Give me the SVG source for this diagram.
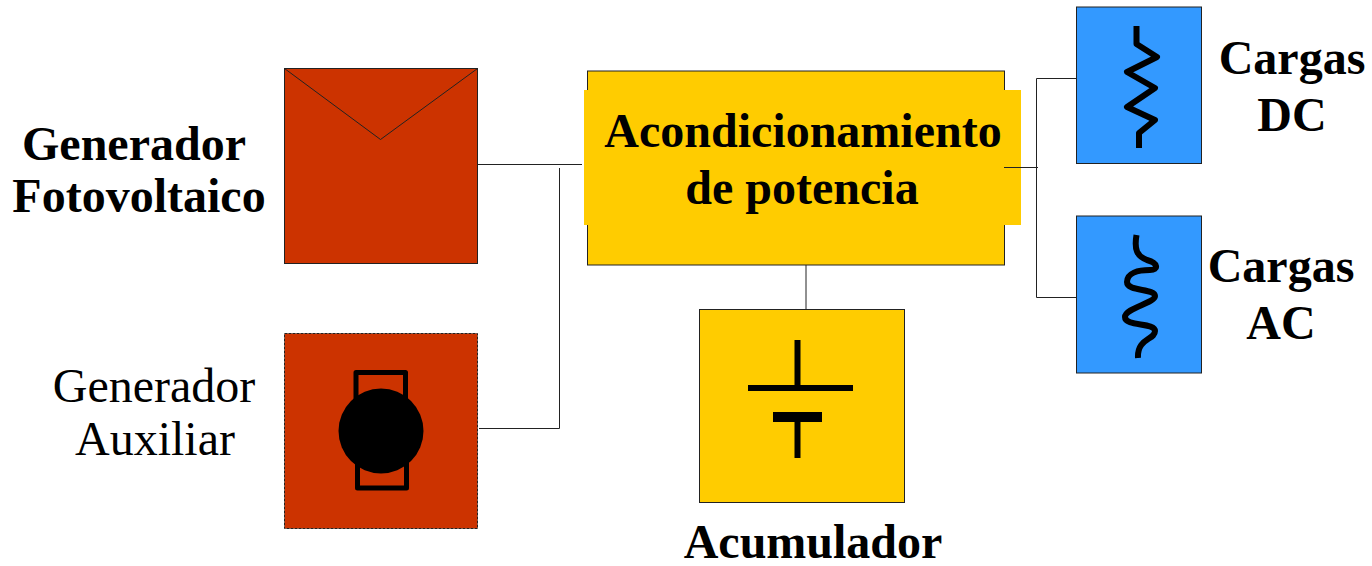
<svg xmlns="http://www.w3.org/2000/svg" width="1372" height="566" viewBox="0 0 1372 566">
<style>
.box{stroke:#222;stroke-width:1}
.red{fill:#cc3300}.yel{fill:#ffcc00}.blu{fill:#3399ff}
.sym{fill:none;stroke:#000;stroke-linejoin:round}
.wire{fill:none;stroke:#222;stroke-width:1}
text{font-family:"Liberation Serif","Times New Roman",serif;font-size:48px;fill:#000;text-anchor:middle}
.b{font-weight:bold}
</style>
<rect width="1372" height="566" fill="#fff"/>
<g id="connectors">
<path class="wire" d="M478 164.500H582"/>
<path class="wire" d="M479 428.500H559.500V168"/>
<path class="wire" d="M806 265V309"/>
<path class="wire" d="M1076 78.500H1036.500V297.500H1079"/>
</g>
<g id="generador-fotovoltaico">
<rect class="box red" x="284.500" y="68.500" width="193" height="195"/>
<path class="wire" d="M284.500 68.500L380.500 139.500L477.500 68.500"/>
<text class="b"><tspan x="134" y="160">Generador</tspan><tspan x="139" y="212">Fotovoltaico</tspan></text>
</g>
<g id="generador-auxiliar">
<rect class="box red" x="284.500" y="333.500" width="193" height="195" stroke-dasharray="3 1"/>
<path class="sym" stroke-width="5" d="M356 410V372.500H405.500V410M357.500 450V488H406.500V450"/>
<circle cx="381" cy="431" r="42.500"/>
<text><tspan x="154" y="402">Generador</tspan><tspan x="155" y="455">Auxiliar</tspan></text>
</g>
<g id="acondicionamiento">
<rect class="box yel" x="587.500" y="71" width="417" height="194"/>
<rect class="yel" x="584" y="90" width="437" height="135"/>
<path class="wire" d="M1004 167.500H1038"/>
<text class="b"><tspan x="803" y="147">Acondicionamiento</tspan><tspan x="802" y="204">de potencia</tspan></text>
</g>
<g id="acumulador">
<rect class="box yel" x="699.500" y="309.500" width="205" height="193"/>
<path d="M797.500 340V388M748 388H853" fill="none" stroke="#000" stroke-width="6"/>
<path d="M773 417H822" fill="none" stroke="#000" stroke-width="10"/>
<path d="M797.500 417V458" fill="none" stroke="#000" stroke-width="6"/>
<text class="b" x="813" y="558">Acumulador</text>
</g>
<g id="cargas-dc">
<rect class="box blu" x="1076.500" y="7" width="125" height="156.500"/>
<path class="sym" stroke-width="6" d="M1136.500 26V44L1157 57L1127 72L1155 88L1127 107L1155 120L1139 133V148"/>
<text class="b"><tspan x="1292" y="74">Cargas</tspan><tspan x="1292" y="131">DC</tspan></text>
</g>
<g id="cargas-ac">
<rect class="box blu" x="1076.500" y="216" width="125" height="157"/>
<path class="sym" stroke-width="6" d="M1136.500 235C1134 250 1137 256 1147 260C1158 263 1159 270 1150 270C1138 270 1127 273 1127 282C1127 292 1155 288 1155 296C1155 303 1125 308 1125 317C1125 327 1155 322 1155 331C1155 340 1137 338 1138 358"/>
<text class="b"><tspan x="1281" y="282">Cargas</tspan><tspan x="1281" y="339">AC</tspan></text>
</g>
</svg>
